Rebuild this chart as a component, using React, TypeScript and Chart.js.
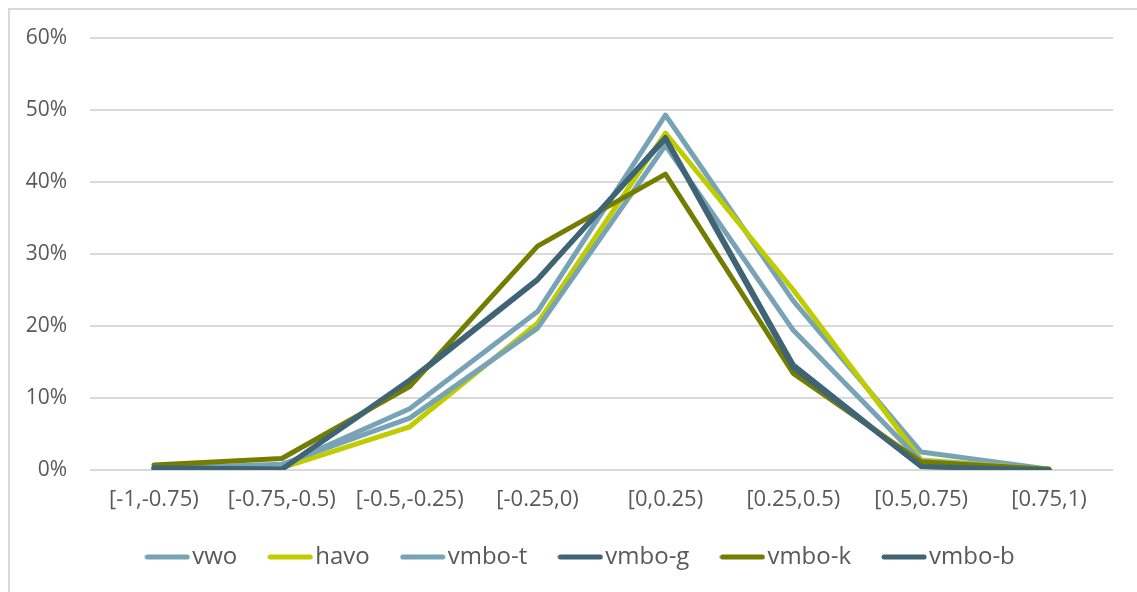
import React, { useEffect, useRef } from "react";
import { Chart, registerables } from "chart.js";

Chart.register(...registerables);

const categories = ["[-1,-0.75)", "[-0.75,-0.5)", "[-0.5,-0.25)", "[-0.25,0)", "[0,0.25)", "[0.25,0.5)", "[0.5,0.75)", "[0.75,1)"];
const vwo = [0.002, 0.006, 0.085, 0.22, 0.493, 0.235, 0.025, 0.001];
const havo = [0.001, 0.003, 0.06, 0.204, 0.468, 0.25, 0.014, 0.001];
const vmboT = [0.002, 0.008, 0.072, 0.197, 0.451, 0.194, 0.012, 0.001];
const vmboG = [0.003, 0.001, 0.123, 0.264, 0.462, 0.146, 0.005, 0.0];
const vmboK = [0.007, 0.016, 0.116, 0.311, 0.411, 0.134, 0.011, 0.001];
const vmboB = [0.003, 0.001, 0.125, 0.265, 0.46, 0.142, 0.005, 0.0];
const seriesNames = ["vwo", "havo", "vmbo-t", "vmbo-g", "vmbo-k", "vmbo-b"];
const seriesValues = [vwo, havo, vmboT, vmboG, vmboK, vmboB];
const seriesColors = ["#78A3B6", "#BECC00", "#78A3B6", "#3F6475", "#737D00", "#3F6475"];
const yTicks = [0, 0.1, 0.2, 0.3, 0.4, 0.5, 0.6];

function legendLine(color: string) {
  const c = document.createElement("canvas");
  c.width = 46;
  c.height = 6;
  const g = c.getContext("2d") as CanvasRenderingContext2D;
  g.strokeStyle = color;
  g.lineWidth = 5;
  g.lineCap = "round";
  g.beginPath();
  g.moveTo(3, 3);
  g.lineTo(43, 3);
  g.stroke();
  return c;
}

const legendShift = {
  id: "legendShift",
  afterLayout(chart: any) {
    const l = chart.legend;
    if (!l) return;
    l.left += 23;
    l.right += 23;
    l.top -= 13;
    l.bottom -= 13;
  },
};

export default function App() {
  const ref = useRef<HTMLCanvasElement | null>(null);
  useEffect(() => {
    document.body.style.overflow = "hidden";
    Chart.defaults.font.family = "'Open Sans', sans-serif";
    const chart = new Chart(ref.current as HTMLCanvasElement, {
      type: "line",
      data: {
        labels: categories,
        datasets: seriesNames.map((name, i) => ({
          label: name,
          data: seriesValues[i],
          borderColor: seriesColors[i],
          backgroundColor: seriesColors[i],
          borderWidth: 5,
          borderCapStyle: "round" as const,
          borderJoinStyle: "round" as const,
          pointRadius: 0,
          pointHoverRadius: 0,
          pointStyle: legendLine(seriesColors[i]) as any,
          tension: 0,
          fill: false,
          order: -i,
        })),
      },
      plugins: [legendShift],
      options: {
        animation: false,
        responsive: false,
        maintainAspectRatio: false,
        events: [],
        layout: { padding: { left: 0, right: 24, top: 28, bottom: 0 } },
        plugins: {
          tooltip: { enabled: false },
          legend: {
            position: "bottom",
            align: "center",
            labels: {
              usePointStyle: true,
              pointStyleWidth: 26,
              boxHeight: 24,
              padding: 40,
              color: "#595959",
              font: { size: 24 },
              sort: (a: any, b: any) => a.datasetIndex - b.datasetIndex,
            },
          },
        },
        scales: {
          x: {
            offset: true,
            grid: { display: false, drawTicks: false },
            border: { display: false },
            ticks: { color: "#595959", font: { size: 22 }, padding: 17, maxRotation: 0, autoSkip: false },
            afterFit: (s: any) => {
              s.height = 48;
            },
          },
          y: {
            min: 0,
            max: 0.6,
            afterBuildTicks: (s: any) => {
              s.ticks = yTicks.map((v) => ({ value: v }));
            },
            grid: { color: "#D9D9D9", lineWidth: 2, drawTicks: true, tickLength: 23, tickColor: "rgba(0,0,0,0)" },
            border: { display: false },
            ticks: {
              color: "#595959",
              font: { size: 21 },
              padding: 0,
              callback: (v: any) => Math.round(Number(v) * 100) + "%",
            },
            afterFit: (s: any) => {
              s.width = 80;
            },
          },
        },
      },
    });
    return () => chart.destroy();
  }, []);
  return (
    <div
      style={{
        position: "absolute",
        left: 8,
        top: 8,
        width: 1129,
        height: 584,
        borderLeft: "2px solid #D9D9D9",
        borderTop: "2px solid #D9D9D9",
        boxSizing: "border-box",
        background: "#fff",
      }}
    >
      <canvas ref={ref} width={1127} height={582} style={{ display: "block", width: 1127, height: 582 }} />
    </div>
  );
}
